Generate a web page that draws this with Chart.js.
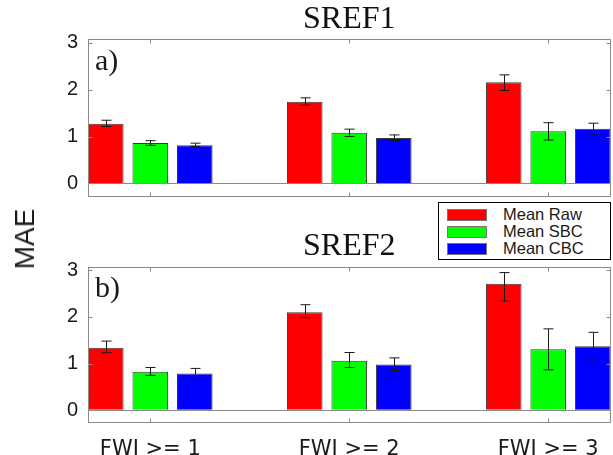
<!DOCTYPE html>
<html>
<head>
<meta charset="utf-8">
<script src="https://cdn.jsdelivr.net/npm/chart.js@4/dist/chart.umd.min.js"></script>
<style>
  html, body { margin: 0; padding: 0; background: #fff; }
  body { width: 613px; height: 455px; position: relative; overflow: hidden; }
  canvas { position: absolute; left: 0; }
  #c1 { top: 0; }
  #c2 { top: 225px; }
  #ylab { position: absolute; left: 25px; top: 239px; transform: translate(-50%, -50%) rotate(-90deg);
          font-family: 'Liberation Sans', Arial, sans-serif; font-size: 28px; color: #1a1a1a; white-space: nowrap; }
  #legend { position: absolute; left: 438px; top: 202px; width: 171px; height: 56px; border: 1.5px solid #000; background: #fff; }
  .row { position: absolute; left: 8px; height: 12px; }
  .sw { position: absolute; left: 0; top: 0; width: 38px; height: 10px; border: 1px solid #777; }
  .lt { position: absolute; left: 56px; top: -4px; font-family: 'Liberation Sans', Arial, sans-serif; font-size: 16.5px; color: #1a1a1a; white-space: nowrap; line-height: 18px; }
</style>
</head>
<body>
<canvas id="c1" width="613" height="200"></canvas>
<canvas id="c2" width="613" height="230"></canvas>
<div id="ylab">MAE</div>
<div id="legend"></div>
<script>
// ---- data ----
const categories = ['FWI >= 1', 'FWI >= 2', 'FWI >= 3'];
const seriesNames = ['Mean Raw', 'Mean SBC', 'Mean CBC'];
const seriesColors = ['#ff0000', '#00ff00', '#0000ff'];
const yTickValues = [0, 1, 2, 3];
const panelTitles = ['SREF1', 'SREF2'];
const panelTags = ['a)', 'b)'];

// SREF1
const sref1Raw = [1.27, 1.74, 2.16];
const sref1RawUp = [0.077, 0.085, 0.155];
const sref1RawDown = [0.057, 0.072, 0.179];
const sref1SBC = [0.86, 1.08, 1.11];
const sref1SBCUp = [0.051, 0.077, 0.185];
const sref1SBCDown = [0.049, 0.079, 0.185];
const sref1CBC = [0.815, 0.97, 1.165];
const sref1CBCUp = [0.043, 0.064, 0.119];
const sref1CBCDown = [0.028, 0.057, 0.128];

// SREF2
const sref2Raw = [1.34, 2.10, 2.71];
const sref2RawUp = [0.143, 0.163, 0.242];
const sref2RawDown = [0.107, 0.116, 0.37];
const sref2SBC = [0.825, 1.06, 1.31];
const sref2SBCUp = [0.092, 0.178, 0.435];
const sref2SBCDown = [0.079, 0.143, 0.443];
const sref2CBC = [0.79, 0.98, 1.37];
const sref2CBCUp = [0.107, 0.143, 0.30];
const sref2CBCDown = [0.092, 0.128, 0.291];

// ---- helpers ----
function mkDataset(name, color, vals, up, down) {
  return {
    label: name,
    data: vals.map((v, i) => ({ x: i, y: v })),
    errUp: up, errDown: down,
    backgroundColor: color,
    borderColor: '#3a3a3a',
    borderWidth: 1,
    categoryPercentage: 0.671,
    barPercentage: 0.8
  };
}

const errorBarPlugin = {
  id: 'errbars',
  afterDatasetsDraw(chart) {
    const ctx = chart.ctx;
    const ys = chart.scales.y;
    ctx.save();
    ctx.strokeStyle = '#1a1a1a';
    ctx.lineWidth = 1;
    chart.data.datasets.forEach((ds, di) => {
      const meta = chart.getDatasetMeta(di);
      meta.data.forEach((bar, i) => {
        const v = ds.data[i].y;
        const yt = ys.getPixelForValue(v + ds.errUp[i]);
        const yb = ys.getPixelForValue(v - ds.errDown[i]);
        const x = Math.round(bar.x) + 0.5;
        ctx.beginPath();
        ctx.moveTo(x, yt); ctx.lineTo(x, yb);
        ctx.moveTo(x - 5, yt); ctx.lineTo(x + 5, yt);
        ctx.moveTo(x - 5, yb); ctx.lineTo(x + 5, yb);
        ctx.stroke();
      });
    });
    ctx.restore();
  }
};

const framePlugin = {
  id: 'frame',
  afterDraw(chart, args, opts) {
    const ctx = chart.ctx;
    const a = chart.chartArea;
    const xs = chart.scales.x, ys = chart.scales.y;
    ctx.save();
    ctx.strokeStyle = '#8a8a8a';
    ctx.lineWidth = 1;
    const L = Math.round(a.left) + 0.5, R = Math.round(a.right) - 0.5;
    const T = Math.round(a.top) + 0.5, B = Math.round(a.bottom) - 0.5;
    ctx.strokeRect(L, T, R - L, B - T);
    ctx.beginPath();
    xs.ticks.forEach(t => {
      const x = Math.round(xs.getPixelForValue(t.value)) + 0.5;
      ctx.moveTo(x, T); ctx.lineTo(x, T + 4);
      ctx.moveTo(x, B); ctx.lineTo(x, B - 4);
    });
    ys.ticks.forEach(t => {
      const y = Math.round(ys.getPixelForValue(t.value)) + 0.5;
      ctx.moveTo(L, y); ctx.lineTo(L + 4, y);
      ctx.moveTo(R, y); ctx.lineTo(R - 4, y);
    });
    ctx.stroke();
    // panel tag
    ctx.fillStyle = '#1a1a1a';
    ctx.font = '30px "Liberation Serif", serif';
    ctx.textBaseline = 'alphabetic';
    ctx.textAlign = 'left';
    ctx.fillText(opts.tag, a.left + 7.5, a.top + 30.5);
    ctx.restore();
  }
};

function makeChart(id, title, tag, datasets, showX, padTop, padBottom) {
  return new Chart(document.getElementById(id), {
    type: 'bar',
    data: { datasets },
    plugins: [errorBarPlugin, framePlugin],
    options: {
      responsive: false,
      animation: false,
      layout: { padding: { left: 0, right: 2, top: padTop, bottom: padBottom } },
      plugins: {
        legend: { display: false },
        tooltip: { enabled: false },
        title: {
          display: true, text: title, fullSize: false,
          color: '#111',
          font: { family: '"Liberation Serif", serif', size: 32, weight: 'normal', lineHeight: 1.2 },
          padding: { top: 0, bottom: 0.6 }
        },
        frame: { tag }
      },
      scales: {
        x: {
          type: 'linear',
          min: -0.3155, max: 2.3155,
          offset: false,
          afterBuildTicks: s => { s.ticks = categories.map((c, i) => ({ value: i })); },
          afterFit: s => { s.height = showX ? 31.7 : 0; s.paddingLeft = 0; s.paddingRight = 0; },
          grid: { display: false },
          border: { display: false },
          ticks: {
            display: showX,
            padding: 6,
            color: '#1a1a1a',
            font: { family: '"DejaVu Sans", sans-serif', size: 21 },
            callback: v => categories[v]
          }
        },
        y: {
          min: -0.28, max: 3.08,
          afterBuildTicks: s => { s.ticks = yTickValues.map(v => ({ value: v })); },
          afterFit: s => { s.width = 87.5; s.paddingTop = 0; s.paddingBottom = 0; },
          border: { display: false },
          grid: {
            drawTicks: false,
            color: c => (c.tick && c.tick.value === 0) ? '#8a8a8a' : 'rgba(0,0,0,0)',
            lineWidth: 1
          },
          ticks: {
            padding: 9.5,
            color: '#1a1a1a',
            font: { family: '"Liberation Sans", Arial, sans-serif', size: 20 }
          }
        }
      }
    }
  });
}

const ds1 = [
  mkDataset(seriesNames[0], seriesColors[0], sref1Raw, sref1RawUp, sref1RawDown),
  mkDataset(seriesNames[1], seriesColors[1], sref1SBC, sref1SBCUp, sref1SBCDown),
  mkDataset(seriesNames[2], seriesColors[2], sref1CBC, sref1CBCUp, sref1CBCDown)
];
const ds2 = [
  mkDataset(seriesNames[0], seriesColors[0], sref2Raw, sref2RawUp, sref2RawDown),
  mkDataset(seriesNames[1], seriesColors[1], sref2SBC, sref2SBCUp, sref2SBCDown),
  mkDataset(seriesNames[2], seriesColors[2], sref2CBC, sref2CBCUp, sref2CBCDown)
];

makeChart('c1', panelTitles[0], panelTags[0], ds1, false, 0, 3.5);
makeChart('c2', panelTitles[1], panelTags[1], ds2, true, 2.6, 0);

// legend (HTML) built from series arrays
const leg = document.getElementById('legend');
seriesNames.forEach((n, i) => {
  const r = document.createElement('div');
  r.className = 'row';
  r.style.top = (6 + i * 17) + 'px';
  const s = document.createElement('div'); s.className = 'sw'; s.style.background = seriesColors[i];
  const t = document.createElement('div'); t.className = 'lt'; t.textContent = n;
  r.appendChild(s); r.appendChild(t);
  leg.appendChild(r);
});
</script>
</body>
</html>
